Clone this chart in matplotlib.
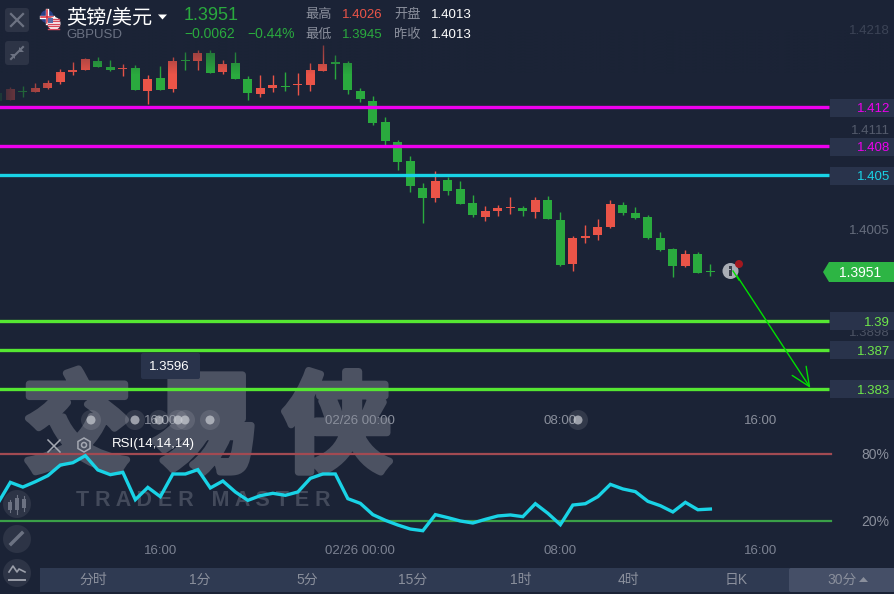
import matplotlib
matplotlib.use("Agg")
import matplotlib.pyplot as plt
import matplotlib.patheffects as pe
import numpy as np
from matplotlib.patches import FancyBboxPatch, Circle, Rectangle, Polygon

plt.rcParams['font.family'] = ['Liberation Sans', 'Noto Sans CJK SC', 'DejaVu Sans']

# candles, 30 minute bars
opens = [1.41352,1.41277,1.41370,1.41359,1.41400,1.41462,1.41565,1.41586,1.41679,1.41617,
         1.41600,1.41606,1.41370,1.41503,1.41390,1.41685,1.41679,1.41761,1.41565,1.41658,
         1.41493,1.41339,1.41400,1.41421,1.41431,1.41431,1.41576,1.41668,1.41658,1.41370,
         1.41266,1.41050,1.40844,1.40648,1.40370,1.40267,1.40453,1.40360,1.40216,1.40071,
         1.40133,1.40164,1.40164,1.40123,1.40247,1.40041,1.39587,1.39855,1.39886,1.39968,
         1.40195,1.40113,1.40071,1.39855,1.39742,1.39567,1.39690,1.39515]
highs = [1.41352,1.41407,1.41421,1.41448,1.41483,1.41593,1.41668,1.41709,1.41720,1.41689,
         1.41648,1.41634,1.41534,1.41627,1.41720,1.41771,1.41792,1.41792,1.41689,1.41771,
         1.41524,1.41534,1.41534,1.41565,1.41555,1.41658,1.41843,1.41740,1.41679,1.41400,
         1.41318,1.41102,1.40865,1.40700,1.40422,1.40545,1.40484,1.40442,1.40298,1.40185,
         1.40195,1.40278,1.40185,1.40278,1.40288,1.40123,1.39876,1.39989,1.40051,1.40247,
         1.40226,1.40174,1.40092,1.39917,1.39752,1.39731,1.39711,1.39587]
lows = [1.41270,1.41277,1.41311,1.41356,1.41394,1.41442,1.41534,1.41586,1.41617,1.41576,
        1.41524,1.41380,1.41236,1.41380,1.41359,1.41586,1.41586,1.41555,1.41545,1.41493,
        1.41277,1.41308,1.41359,1.41373,1.41328,1.41370,1.41576,1.41493,1.41339,1.41256,
        1.41019,1.40813,1.40556,1.40329,1.40010,1.40226,1.40298,1.40205,1.40071,1.40030,
        1.40082,1.40102,1.40082,1.40061,1.40051,1.39567,1.39515,1.39804,1.39835,1.39958,
        1.40092,1.40051,1.39845,1.39721,1.39453,1.39556,1.39495,1.39464]
closes = [1.41270,1.41390,1.41363,1.41400,1.41452,1.41565,1.41586,1.41699,1.41617,1.41586,
          1.41606,1.41380,1.41493,1.41380,1.41679,1.41679,1.41761,1.41555,1.41648,1.41493,
          1.41349,1.41400,1.41431,1.41414,1.41442,1.41586,1.41648,1.41648,1.41380,1.41287,
          1.41040,1.40854,1.40638,1.40391,1.40267,1.40442,1.40339,1.40205,1.40092,1.40133,
          1.40164,1.40174,1.40133,1.40247,1.40051,1.39577,1.39855,1.39876,1.39968,1.40205,
          1.40113,1.40061,1.39855,1.39731,1.39567,1.39690,1.39495,1.39505]
rsi = [35.8,54.6,50.4,55.2,60.6,70.1,72.2,78.5,65.7,61.5,63.6,39.1,50.1,41.8,62.1,62.1,66.0,49.6,
       55.8,46.0,38.5,42.7,44.8,43.0,46.0,58.2,62.1,62.1,40.0,35.8,25.7,20.6,16.4,12.8,11.3,25.7,
       23.0,20.0,18.2,21.5,24.5,25.4,23.9,35.5,26.9,16.7,34.3,35.5,41.8,52.8,48.7,46.3,37.6,33.7,
       28.1,36.7,30.1,30.7]

levels = [1.412, 1.408, 1.405, 1.39, 1.387, 1.383]
level_names = ['1.412', '1.408', '1.405', '1.39', '1.387', '1.383']
level_colors = ['#ee00ee', '#ee00ee', '#19d3e6', '#55e632', '#55e632', '#55e632']
price_ticks = ['1.4218', '1.4111', '1.4005', '1.3898']
price_tick_y = [30, 130, 230, 331]
time_ticks = [13, 29, 45, 61]
time_labels = ['16:00', '02/26 00:00', '08:00', '16:00']
periods = ['分时', '1分', '5分', '15分', '1时', '4时', '日K', '30分']

BG = '#1b2336'
RED = '#ea5448'
GREEN = '#2aaa3e'
BTN = '#2d3446'
ICON = '#6c7282'
W, H = 895, 594

fig = plt.figure(figsize=(W/100, H/100), dpi=100, facecolor=BG)

# price axes, whole figure, pixel scale from the level lines
ax = fig.add_axes([0, 0, 1, 1], facecolor=BG)
ax.set_xlim(0.1733, 71.77)
ax.set_ylim(1.42307-0.00010302*H, 1.42307)
ax.axis('off')

for i in range(len(opens)):
    c = RED if closes[i] >= opens[i] else GREEN
    ax.vlines(i, lows[i], highs[i], color=c, lw=1.0, zorder=3)
    b = abs(closes[i]-opens[i])
    ax.bar(i, max(b, 0.00006), 0.72, bottom=min(opens[i], closes[i]), color=c, zorder=3)

for k in range(len(levels)):
    ax.plot([0, 66.5], [levels[k]]*2, color=level_colors[k], lw=2.4, zorder=4, solid_capstyle='butt')

# arrow from the marker down to the last level
ax.annotate('', xy=(65.0, 1.3831), xytext=(58.8, 1.3953),
            arrowprops=dict(arrowstyle='->,head_length=1.35,head_width=0.6', color='#00e000', lw=1.0,
                            shrinkA=0, shrinkB=0), zorder=5)

# rsi axes
ax2 = fig.add_axes([0, 0, 1, 1], facecolor='none')
ax2.set_xlim(0.1733, 71.77)
ax2.set_ylim(80-(H-454)/1.1167, 80+454/1.1167)
ax2.axis('off')
ax2.axhline(80, xmax=0.9285, color='#a24a52', lw=1.6)
ax2.axhline(20, xmax=0.9285, color='#3aa048', lw=1.6)
ax2.plot(range(len(rsi)), rsi, color='#19d3e6', lw=2.4, solid_joinstyle='miter', zorder=5)

# everything else in pixel coordinates
ui = fig.add_axes([0, 0, 1, 1], facecolor='none')
ui.axis('off')

# fade of the oldest candles under the header and at the left edge
fade = np.zeros((60, 2, 4))
fade[:, :, :3] = matplotlib.colors.to_rgb(BG)
fade[:, :, 3] = np.linspace(0.75, 0, 60)[:, None]
ui.imshow(fade, extent=(0, W, 75, 30), aspect='auto', zorder=1)
fade2 = np.zeros((2, 60, 4))
fade2[:, :, :3] = matplotlib.colors.to_rgb(BG)
fade2[:, :, 3] = np.linspace(0.85, 0, 60)[None, :]
ui.imshow(fade2, extent=(0, 60, 104, 60), aspect='auto', zorder=1)
ui.set_xlim(0, W)
ui.set_ylim(H, 0)

# watermark goes under the lines, drawn in the price axes with pixel positions
for wx, ch in zip([77, 206, 337], '交易侠'):
    ax.text(wx, 431, ch, color='#4c5262', fontsize=78, fontweight='bold', family='Noto Sans CJK SC',
            ha='center', va='center', zorder=1, transform=ui.transData,
            path_effects=[pe.withStroke(linewidth=5, foreground='#4c5262')])
ax.text(203, 501, 'T R A D E R   M A S T E R', color='#434a5b', fontsize=15.5, ha='center', va='center',
        fontweight='bold', zorder=1, transform=ui.transData)

def box(x, y, w, h, color, z=2, r=0):
    if r:
        ui.add_patch(FancyBboxPatch((x+r, y+r), w-2*r, h-2*r, boxstyle='round,pad=%g' % r, fc=color, ec='none', zorder=z))
    else:
        ui.add_patch(Rectangle((x, y), w, h, fc=color, ec='none', zorder=z))

def label(x, y, s, color, size=9.5, ha='left', z=7):
    # va center sits a bit high with the font list
    ui.text(x, y+1.5, s, color=color, fontsize=size, ha=ha, va='center', zorder=z)

# price label boxes on the right
level_y = [107.5, 146.5, 175.5, 321, 350, 389]
text_c = ['#ee00ee', '#ee00ee', '#19d3e6', '#6fe84a', '#6fe84a', '#6fe84a']
for k in range(6):
    box(830, level_y[k]-9, 65, 18, '#29334b')
    label(890, level_y[k]+0.3, level_names[k], text_c[k], ha='right', z=6)

tick_c = ['#3c4456', '#545b6c', '#666d7d', '#4c5364']
for k in range(4):
    label(890, price_tick_y[k], price_ticks[k], tick_c[k], ha='right', z=1.5)

# current price tag
ui.add_patch(Polygon([(823, 272), (829, 262), (895, 262), (895, 282), (829, 282)], fc='#2db544', ec='none', zorder=6))
label(881, 271.5, '1.3951', 'white', size=10, ha='right')

# crosshair price box
box(141, 353, 59, 26, '#29334b', r=2)
label(169.5, 365.5, '1.3596', 'white', ha='center')

# time labels for both panels
for k in range(4):
    tx = ax.transData.transform((time_ticks[k], 1.4))[0]
    label(tx, 420, time_labels[k], '#8a8f9c', ha='center', z=2)
    label(tx, 549.5, time_labels[k], '#7c8292', ha='center', z=2)

# right axis of rsi
label(889, 453.5, '80%', '#8a8f9c', size=10, ha='right')
label(889, 520.5, '20%', '#8a8f9c', size=10, ha='right')

# header
label(66, 16.5, '英镑/美元', 'white', size=14.5)
label(66, 33, 'GBPUSD', '#6b7283')
ui.add_patch(Polygon([(158, 14.5), (167, 14.5), (162.5, 19.5)], fc='white', ec='none', zorder=7))
label(184, 14.5, '1.3951', GREEN, size=13)
label(184, 33, '\u22120.0062', GREEN, size=10)
label(247, 33, '\u22120.44%', GREEN, size=10)
label(305, 13.5, '最高', '#8a8f9c')
label(342, 13.5, '1.4026', RED)
label(394, 13.5, '开盘', '#8a8f9c')
label(431, 13.5, '1.4013', 'white')
label(305, 33, '最低', '#8a8f9c')
label(342, 33, '1.3945', GREEN)
label(394, 33, '昨收', '#8a8f9c')
label(431, 33, '1.4013', 'white')

# top left buttons
box(5, 8, 24, 24, BTN, r=3)
ui.plot([11, 23], [14, 26], color=ICON, lw=1.6, zorder=7)
ui.plot([23, 11], [14, 26], color=ICON, lw=1.6, zorder=7)
box(5, 41, 24, 24, BTN, r=3)
ui.plot([11, 23], [59, 47], color=ICON, lw=1.5, zorder=7)
ui.add_patch(Polygon([(10, 54), (15, 54), (15, 59)], fc=ICON, ec='none', zorder=7))
ui.add_patch(Polygon([(24, 52), (19, 52), (19, 47)], fc=ICON, ec='none', zorder=7))

# flags
ui.add_patch(Circle((47, 16.5), 6.5, fc='#2a3f85', ec='none', zorder=7))
ui.plot([41, 53], [16.5, 16.5], color='white', lw=2.4, zorder=7)
ui.plot([47, 47], [10, 23], color='white', lw=2.4, zorder=7)
ui.plot([41, 53], [16.5, 16.5], color='#d42a3a', lw=1.1, zorder=7)
ui.plot([47, 47], [10, 23], color='#d42a3a', lw=1.1, zorder=7)
ui.add_patch(Circle((54, 23.5), 6.5, fc='white', ec='none', zorder=8))
for sy in [18.5, 21, 23.5, 26, 28.5]:
    ui.plot([48.5, 59.5], [sy, sy], color='#d9485a', lw=1.0, zorder=8)
ui.add_patch(Rectangle((48, 17.5), 5, 5, fc='#5a6aa5', ec='none', zorder=8))

# info marker at the last candle, arrow start runs over it
ui.add_patch(Circle((730.5, 271), 8, fc='#a9adb5', ec='none', zorder=8))
ui.add_patch(Rectangle((729, 266), 3, 10, fc='#3a3f4c', ec='none', zorder=9))
ui.add_patch(Rectangle((729.5, 268.5), 2, 1, fc='#a9adb5', ec='none', zorder=9))
ui.add_patch(Circle((739, 264), 4, fc='#a3181f', ec='none', zorder=9))
ui.plot([733, 739], [271, 280], color='#00e000', lw=1.0, zorder=9)

# event dots on the time axis
for dx in [91, 135, 159, 178, 185, 210, 578]:
    ui.add_patch(Circle((dx, 420), 10, fc='white', alpha=0.1, ec='none', zorder=6))
    ui.add_patch(Circle((dx, 420), 4.5, fc='#c9ccd2', alpha=0.7, ec='none', zorder=6))

# rsi title and its icons
ui.plot([48, 60], [440, 452], color='#a4a8b2', lw=1.1, zorder=11)
ui.plot([60, 48], [440, 452], color='#a4a8b2', lw=1.1, zorder=11)
ang = np.radians(np.arange(30, 390, 60))
ui.add_patch(Polygon(np.c_[84+7*np.cos(ang), 445+7*np.sin(ang)], fill=False, ec='#a4a8b2', lw=1.1, zorder=11))
ui.add_patch(Circle((84, 445), 2.5, fill=False, ec='#a4a8b2', lw=1.1, zorder=11))
label(112, 442, 'RSI(14,14,14)', 'white', z=11)

# side tool buttons
for cy in [504, 539, 573]:
    ui.add_patch(Circle((17, cy), 14, fc=BTN, ec='none', zorder=11))
for bx, by0, by1, wy0, wy1 in [(10, 502, 510, 500, 512), (17, 498, 510, 495, 514), (24, 499, 508, 496, 511)]:
    ui.plot([bx, bx], [wy0, wy1], color=ICON, lw=0.8, zorder=12)
    box(bx-2, by0, 4, by1-by0, ICON, z=12)
ui.plot([11, 22], [544, 533], color=ICON, lw=2.5, zorder=12)
ui.plot([9, 13, 17, 19, 25], [572, 566, 572, 569, 572], color='#9a9ea9', lw=1.2, zorder=12)
ui.plot([9, 25], [580, 580], color='#9a9ea9', lw=1.4, zorder=12)

# period bar
box(40, 568, 855, 24, '#2f3a52', z=13)
box(789, 568, 106, 24, '#454f67', z=14, r=2)
bar_x = [93, 200, 307, 413, 521, 628, 736.5, 842]
for k in range(len(periods)):
    label(bar_x[k], 578.5, periods[k], '#8a8f9c', size=10, ha='center', z=15)
ui.add_patch(Polygon([(859, 582), (868, 582), (863.5, 577)], fc='#8a8f9c', ec='none', zorder=15))

fig.savefig('out.png', dpi=100, facecolor=BG)
